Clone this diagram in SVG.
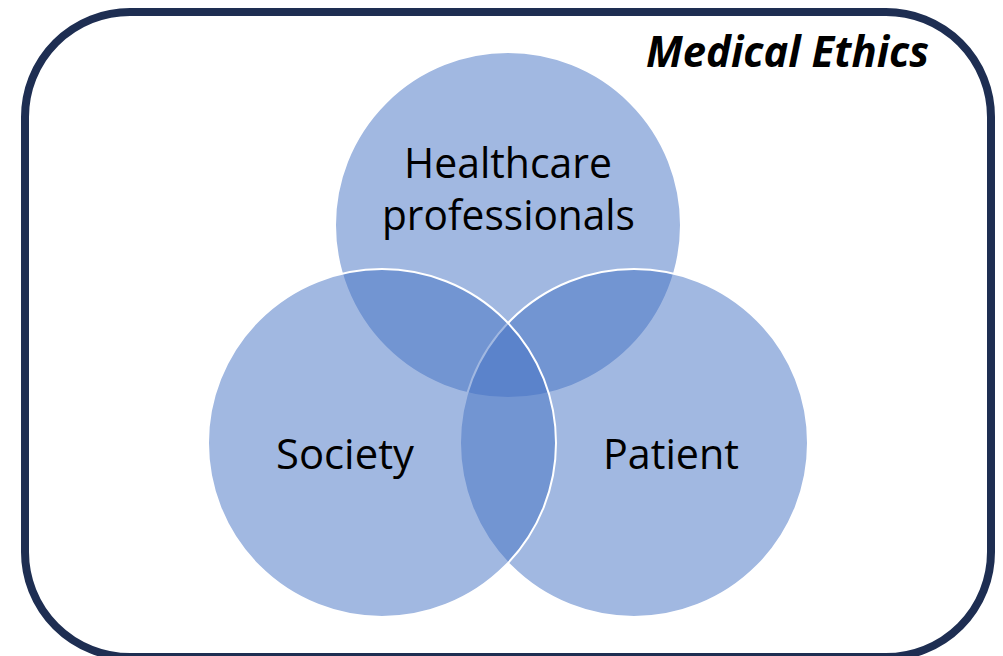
<svg xmlns="http://www.w3.org/2000/svg" width="1003" height="656" viewBox="0 0 1003 656">
  <style>
    .venn { fill: #4472C4; fill-opacity: 0.5; stroke: #FFFFFF; stroke-width: 2; }
    .lbl { font-family: "Open Sans", "Noto Sans", sans-serif; font-size: 42px; fill: #000000; text-anchor: middle; }
    .title { font-family: "Open Sans", "Noto Sans", sans-serif; font-size: 43px; font-weight: bold; font-style: italic; fill: #000000; }
  </style>
  <rect x="0" y="0" width="1003" height="656" fill="#FFFFFF"/>
  <g id="frame">
    <rect x="25" y="12" width="966" height="645" rx="105" ry="105" fill="none" stroke="#1E2E52" stroke-width="8"/>
    <text class="title" x="646" y="67" textLength="283" lengthAdjust="spacingAndGlyphs">Medical Ethics</text>
  </g>
  <g id="node-healthcare">
    <circle class="venn" cx="508" cy="225" r="173"/>
    <text class="lbl" x="508" y="178" textLength="208" lengthAdjust="spacingAndGlyphs">Healthcare</text>
    <text class="lbl" x="508.5" y="230" textLength="253" lengthAdjust="spacingAndGlyphs">professionals</text>
  </g>
  <g id="node-patient">
    <circle class="venn" cx="634" cy="443" r="174"/>
    <text class="lbl" x="671" y="469" textLength="136" lengthAdjust="spacingAndGlyphs">Patient</text>
  </g>
  <g id="node-society">
    <circle class="venn" cx="382" cy="443" r="174"/>
    <text class="lbl" x="345" y="469" textLength="138" lengthAdjust="spacingAndGlyphs">Society</text>
  </g>
  <g id="connectors"></g>
</svg>
